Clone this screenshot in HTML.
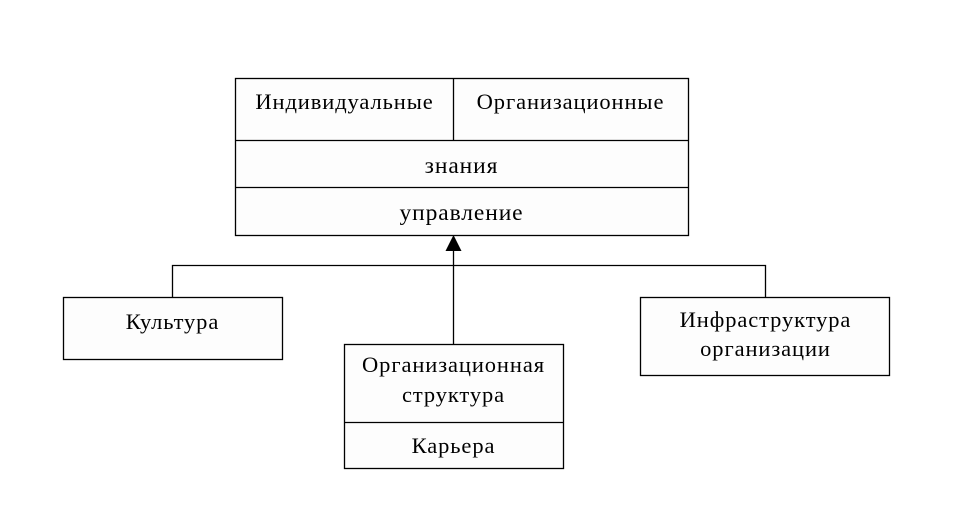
<!DOCTYPE html>
<html><head><meta charset="utf-8"><style>
html,body{margin:0;padding:0;background:#fff;}
svg{display:block;}
text{font-family:"Liberation Serif",serif;fill:#000;text-anchor:middle;letter-spacing:0.9px;}
</style></head><body>
<svg width="966" height="518" viewBox="0 0 966 518" xmlns="http://www.w3.org/2000/svg">
<g stroke="#000" stroke-width="1.3" fill="#fdfdfd">
<rect x="235.5" y="78.5" width="453" height="157"/>
<line x1="453.5" y1="78" x2="453.5" y2="140"/>
<line x1="235" y1="140.5" x2="688" y2="140.5"/>
<line x1="235" y1="187.5" x2="688" y2="187.5"/>
<rect x="63.5" y="297.5" width="219" height="62"/>
<rect x="344.5" y="344.5" width="219" height="124"/>
<line x1="344" y1="422.5" x2="563" y2="422.5"/>
<rect x="640.5" y="297.5" width="249" height="78"/>
<polyline fill="none" points="172.5,297 172.5,265.5 765.5,265.5 765.5,297"/>
<line x1="453.5" y1="250" x2="453.5" y2="344"/>
</g>
<polygon points="453.5,235 445.5,251 461.5,251" fill="#000"/>
<g font-size="22.5">
<text x="344.5" y="109">Индивидуальные</text>
<text x="570.5" y="109">Организационные</text>
<text x="461.5" y="173" font-size="23.5">знания</text>
<text x="461.5" y="220" font-size="23.5">управление</text>
<text x="172.5" y="329">Культура</text>
<text x="453.5" y="372">Организационная</text>
<text x="453.5" y="402">структура</text>
<text x="453.5" y="453">Карьера</text>
<text x="765.5" y="327">Инфраструктура</text>
<text x="765.5" y="356">организации</text>
</g>
</svg>
</body></html>
